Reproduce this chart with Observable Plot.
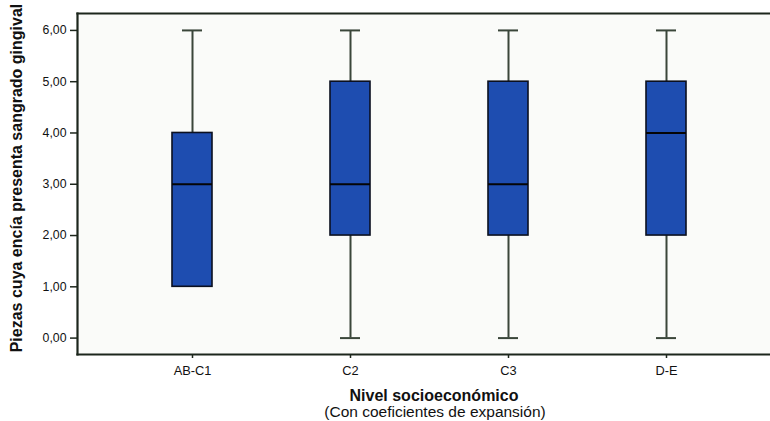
<!DOCTYPE html>
<html>
<head>
<meta charset="utf-8">
<script src="https://cdn.jsdelivr.net/npm/d3@7"></script>
<script src="https://cdn.jsdelivr.net/npm/@observablehq/plot@0.6"></script>
<style>
  html, body { margin: 0; padding: 0; background: #ffffff; }
  #chart { width: 770px; height: 421px; overflow: hidden; }
</style>
</head>
<body>
<div id="chart"></div>
<script>
// Data
const categories = ["AB-C1", "C2", "C3", "D-E"];
const minimums   = [1, 0, 0, 0];
const quartile1  = [1, 2, 2, 2];
const medians    = [3, 3, 3, 4];
const quartile3  = [4, 5, 5, 5];
const maximums   = [6, 6, 6, 6];
const yTicks     = [0, 1, 2, 3, 4, 5, 6];

const yTitle = "Piezas cuya encía presenta sangrado gingival";
const xTitle = "Nivel socioeconómico";
const xSubtitle = "(Con coeficientes de expansión)";

const data = categories.map((c, i) => ({
  cat: c, min: minimums[i], q1: quartile1[i], med: medians[i], q3: quartile3[i], max: maximums[i]
}));

const fmt = d => d.toFixed(2).replace(".", ",");
const whisker = "#3a463a";
const frameColor = "#1c261c";
const ink = "#111";

const chart = Plot.plot({
  width: 770,
  height: 421,
  marginTop: 13,
  marginBottom: 67,
  marginLeft: 77,
  marginRight: 0,
  style: { fontFamily: "Arial, 'Liberation Sans', sans-serif", background: "#ffffff", color: ink },
  x: { type: "band", domain: categories, range: [113, 745], padding: 0 },
  y: { domain: [-0.32, 6.33] },
  marks: [
    Plot.frame({ fill: "#fafbf9", stroke: null }),
    Plot.ruleX(data, { x: "cat", y1: "min", y2: "max", stroke: whisker, strokeWidth: 2 }),
    Plot.tickY(data, { x: "cat", y: "max", stroke: whisker, strokeWidth: 2, insetLeft: 69, insetRight: 69 }),
    Plot.tickY(data.filter(d => d.min < d.q1), { x: "cat", y: "min", stroke: whisker, strokeWidth: 2, insetLeft: 69, insetRight: 69 }),
    Plot.barY(data, { x: "cat", y1: "q1", y2: "q3", fill: "#1e4db0", stroke: "#0b1020", strokeWidth: 1.6, insetLeft: 59, insetRight: 59 }),
    Plot.tickY(data, { x: "cat", y: "med", stroke: "#050505", strokeWidth: 2, insetLeft: 59, insetRight: 59 }),
    // axis tick marks (labels drawn separately for size control)
    Plot.axisY({ ticks: yTicks, tickFormat: () => "", tickSize: 7, label: null, stroke: frameColor, strokeWidth: 1.5 }),
    Plot.axisX({ tickSize: 4, tickFormat: () => "", label: null, stroke: frameColor, strokeWidth: 1.5 }),
    Plot.text(yTicks, { y: d => d, frameAnchor: "left", dx: -11, text: fmt, textAnchor: "end", lineAnchor: "middle", fontSize: 12.3, fill: ink }),
    Plot.text(categories, { x: d => d, frameAnchor: "bottom", dy: 16, text: d => d, textAnchor: "middle", lineAnchor: "middle", fontSize: 12.8, fill: ink }),
    Plot.frame({ anchor: "left", stroke: frameColor, strokeWidth: 2.2 }),
    Plot.frame({ anchor: "top", stroke: frameColor, strokeWidth: 2.2 }),
    Plot.frame({ anchor: "bottom", stroke: frameColor, strokeWidth: 2.2 }),
    Plot.text([yTitle], { frameAnchor: "left", dx: -61, dy: -6, rotate: -90, text: d => d, fontSize: 16, fontWeight: "bold", textAnchor: "middle", lineAnchor: "middle", fill: ink }),
    Plot.text([xTitle], { frameAnchor: "bottom", dx: 10, dy: 41, text: d => d, fontSize: 16, fontWeight: "bold", textAnchor: "middle", lineAnchor: "middle", fill: ink }),
    Plot.text([xSubtitle], { frameAnchor: "bottom", dx: 11, dy: 58, text: d => d, fontSize: 15.5, textAnchor: "middle", lineAnchor: "middle", fill: ink })
  ]
});

document.getElementById("chart").appendChild(chart);
</script>
</body>
</html>
